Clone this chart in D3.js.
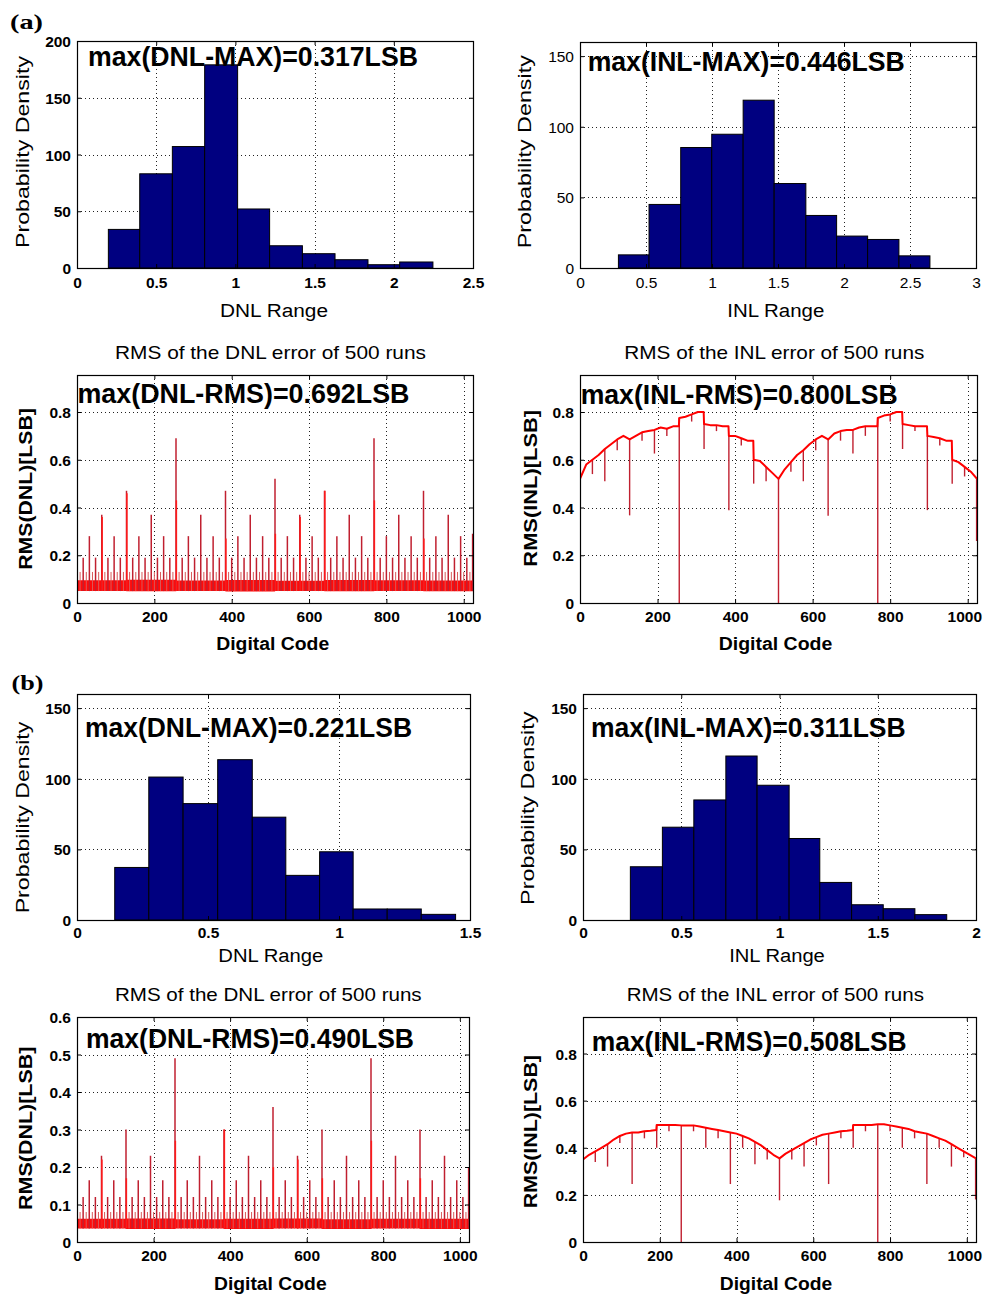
<!DOCTYPE html>
<html><head><meta charset="utf-8">
<script src="https://cdn.jsdelivr.net/npm/d3@7"></script>
<style>body{margin:0;background:#fff}svg{display:block}</style>
</head><body>
<script>
// ================= DATA =================
// (a) histogram of DNL range
const dnlA_edges = [0.198,0.396,0.602,0.806,1.014,1.216,1.423,1.629,1.837,2.037,2.247];
const dnlA_counts = [34,83,107,179,52,19.6,12.6,7.3,2.9,5.3];
// (a) histogram of INL range
const inlA_edges = [0.291,0.523,0.763,0.998,1.236,1.471,1.711,1.944,2.179,2.416,2.651];
const inlA_counts = [9.3,45,85.3,94.7,118.8,59.8,37.2,22.6,20.2,8.6];
// (b) histogram of DNL range
const dnlB_edges = [0.144,0.274,0.405,0.537,0.669,0.797,0.926,1.054,1.184,1.314,1.445];
const dnlB_counts = [37.2,101.2,82.4,113.5,72.8,31.6,48.3,7.8,7.8,4.0];
// (b) histogram of INL range
const inlB_edges = [0.241,0.404,0.564,0.727,0.886,1.049,1.205,1.367,1.528,1.689,1.851];
const inlB_counts = [37.7,65.7,85,116.1,95.4,57.7,26.6,10.8,8.0,3.8];

// digital codes where DNL-RMS spikes occur (grouped by level of the transition)
const codesTier8 = [8,24,40,56,72,88,104,120,136,152,168,184,200,216,232,248,264,280,296,312,328,344,360,376,392,408,424,440,456,472,488,504,520,536,552,568,584,600,616,632,648,664,680,696,712,728,744,760,776,792,808,824,840,856,872,888,904,920,936,952,968,984,1000,1016];
const codesTier16 = [16,48,80,112,144,176,208,240,272,304,336,368,400,432,464,496,528,560,592,624,656,688,720,752,784,816,848,880,912,944,976,1008];
const codesTier32 = [32,96,160,224,288,352,416,480,544,608,672,736,800,864,928,992];
const codesTier64 = [64,192,320,448,576,704,832,960];
const codesTier128 = [128,384,640,896];
const codesTier256 = [256,768];
const codesTier512 = [512];
const codesLast = [1023];

// spike heights per tier [tier8, tier16, tier32, tier64, tier128, tier256, tier512, last]
const dnlA_tierHeights = [0.13,0.19,0.28,0.37,0.47,0.69,0.52,0.29];
const dnlB_tierHeights = [0.08,0.12,0.165,0.23,0.30,0.49,0.36,0.20];
// secondary (adjacent) spikes [code, value]
const dnlA_secondary = [[65,0.36],[129,0.46],[257,0.43],[513,0.29],[577,0.36],[641,0.47],[769,0.43],[897,0.27],[385,0.27]];
const dnlB_secondary = [[65,0.22],[129,0.17],[257,0.27],[385,0.30],[513,0.20],[577,0.22],[641,0.17],[769,0.27],[897,0.17]];
// dense noise band of DNL RMS (low / high envelope every 128 codes)
const bandCodes = [0,128,256,384,512,640,768,896,1024];
const dnlA_bandLo = [0.050,0.049,0.050,0.048,0.050,0.049,0.050,0.049,0.050];
const dnlA_bandHi = [0.095,0.097,0.094,0.096,0.093,0.096,0.095,0.094,0.095];
const dnlB_bandLo = [0.036,0.035,0.036,0.035,0.036,0.035,0.036,0.035,0.036];
const dnlB_bandHi = [0.062,0.063,0.061,0.062,0.063,0.061,0.062,0.062,0.062];

// INL RMS base curves (codes and values, with step points)
const inlA_codes = [0,16,32,48,64,80,96,112,128,144,160,176,192,208,224,240,255,256,272,288,304,319,320,336,352,368,383,384,400,416,432,447,448,464,480,496,512,528,544,560,576,592,608,624,640,656,672,688,704,720,736,752,767,768,784,800,816,831,832,848,864,880,895,896,912,928,944,959,960,976,992,1008,1024];
const inlA_base = [0.52,0.58,0.60,0.62,0.645,0.665,0.685,0.70,0.685,0.70,0.715,0.72,0.725,0.735,0.73,0.74,0.74,0.775,0.78,0.79,0.80,0.80,0.75,0.745,0.745,0.74,0.74,0.70,0.70,0.69,0.68,0.68,0.60,0.595,0.57,0.545,0.52,0.56,0.59,0.62,0.64,0.665,0.685,0.70,0.685,0.71,0.72,0.725,0.725,0.735,0.74,0.74,0.74,0.775,0.785,0.79,0.80,0.80,0.75,0.745,0.74,0.74,0.74,0.70,0.695,0.69,0.68,0.68,0.60,0.59,0.57,0.55,0.52];
const inlB_codes = [0,16,32,48,64,80,96,112,128,144,160,176,191,192,208,224,240,256,272,288,304,320,336,352,368,384,400,416,432,448,464,480,496,512,528,544,560,576,592,608,624,640,656,672,688,703,704,720,736,752,768,784,800,816,832,848,864,880,896,912,928,944,960,976,992,1008,1024];
const inlB_base = [0.35,0.37,0.385,0.40,0.415,0.435,0.45,0.46,0.465,0.465,0.47,0.472,0.475,0.497,0.497,0.497,0.497,0.495,0.495,0.495,0.49,0.485,0.48,0.475,0.47,0.465,0.46,0.45,0.44,0.425,0.41,0.39,0.37,0.355,0.375,0.39,0.405,0.42,0.435,0.445,0.455,0.46,0.465,0.47,0.472,0.475,0.497,0.497,0.497,0.497,0.50,0.50,0.495,0.49,0.485,0.48,0.47,0.465,0.46,0.45,0.44,0.43,0.415,0.40,0.385,0.37,0.355];
// downward dips [code, value]
const inlA_dips = [[32,0.54],[64,0.51],[96,0.64],[128,0.367],[160,0.68],[192,0.626],[224,0.70],[256,0],[288,0.76],[320,0.645],[352,0.72],[384,0.389],[416,0.66],[448,0.50],[480,0.51],[512,0],[544,0.55],[576,0.51],[608,0.64],[640,0.365],[672,0.68],[704,0.626],[736,0.70],[768,0],[800,0.76],[832,0.645],[864,0.72],[896,0.389],[928,0.66],[960,0.50],[992,0.53],[1023,0.26]];
const inlB_dips = [[32,0.34],[64,0.32],[96,0.42],[128,0.246],[160,0.44],[192,0.40],[224,0.47],[256,0],[288,0.47],[320,0.40],[352,0.44],[384,0.246],[416,0.40],[448,0.33],[480,0.35],[512,0.177],[544,0.35],[576,0.32],[608,0.41],[640,0.246],[672,0.44],[704,0.40],[736,0.47],[768,0],[800,0.47],[832,0.40],[864,0.44],[896,0.246],[928,0.40],[960,0.32],[992,0.36],[1023,0.18]];

// tick labels
const ticksHistDnlA = [0,0.5,1,1.5,2,2.5], labHistDnlA = ["0","0.5","1","1.5","2","2.5"];
const ticksHistInlA = [0,0.5,1,1.5,2,2.5,3], labHistInlA = ["0","0.5","1","1.5","2","2.5","3"];
const ticksHistDnlB = [0,0.5,1,1.5], labHistDnlB = ["0","0.5","1","1.5"];
const ticksHistInlB = [0,0.5,1,1.5,2], labHistInlB = ["0","0.5","1","1.5","2"];
const ticksCode = [0,200,400,600,800,1000], labCode = ["0","200","400","600","800","1000"];
const ticksY200 = [0,50,100,150,200], labY200 = ["0","50","100","150","200"];
const ticksY150 = [0,50,100,150], labY150 = ["0","50","100","150"];
const ticksY08 = [0,0.2,0.4,0.6,0.8], labY08 = ["0","0.2","0.4","0.6","0.8"];
const ticksY06 = [0,0.1,0.2,0.3,0.4,0.5,0.6], labY06 = ["0","0.1","0.2","0.3","0.4","0.5","0.6"];

// ================= DRAWING =================
const W=983,H=1296;
const SANS="Arial, 'Liberation Sans', Helvetica, sans-serif";
const SERIF="'Times New Roman', 'Liberation Serif', serif";
const svg=d3.select("body").append("svg").attr("width",W).attr("height",H).attr("font-family",SANS);
svg.append("rect").attr("width",W).attr("height",H).attr("fill","#fff");
const defs=svg.append("defs");
let clipId=0;

function histDraw(edges,counts){
  return (g,x,y)=>{
    const bins=counts.map((v,i)=>({x0:edges[i],x1:edges[i+1],v}));
    g.selectAll(null).data(bins).join("rect")
      .attr("x",d=>x(d.x0)).attr("width",d=>x(d.x1)-x(d.x0))
      .attr("y",d=>y(d.v)).attr("height",d=>y(0)-y(d.v))
      .attr("fill","#000080").attr("stroke","#000").attr("stroke-width",1);
  };
}
function dnlDraw(lo,hi,tierH,secondary){
  return (g,x,y)=>{
    const band=bandCodes.map((c,i)=>({c,lo:lo[i],hi:hi[i]}));
    g.append("path").datum(band)
      .attr("d",d3.area().x(d=>x(d.c)).y0(d=>y(d.lo)).y1(d=>y(d.hi)).curve(d3.curveStepAfter))
      .attr("fill","#ff0a0a");
    const tiers=[codesTier8,codesTier16,codesTier32,codesTier64,codesTier128,codesTier256,codesTier512,codesLast];
    const spikes=[];
    tiers.forEach((cs,t)=>cs.forEach(c=>spikes.push({c,v:tierH[t],t})));
    secondary.forEach(([c,v])=>spikes.push({c,v,t:9}));
    g.selectAll(null).data(spikes).join("line")
      .attr("x1",d=>x(d.c)).attr("x2",d=>x(d.c))
      .attr("y1",y(lo[0])).attr("y2",d=>y(d.v))
      .attr("stroke",d=>d.t===0?"#d85a5a":(d.t===9?"#ff1a1a":"#c02030"))
      .attr("stroke-width",d=>d.t===0?1.0:1.5);
  };
}
function inlDraw(codes,base,dips){
  return (g,x,y)=>{
    const pts=codes.map((c,i)=>({c,v:base[i]}));
    const lookup=d3.scaleLinear().domain(codes).range(base);
    g.selectAll(null).data(dips).join("line")
      .attr("x1",d=>x(d[0])).attr("x2",d=>x(d[0]))
      .attr("y1",d=>y(lookup(d[0]))).attr("y2",d=>y(d[1]))
      .attr("stroke","#c02030").attr("stroke-width",1.4);
    g.append("path").datum(pts)
      .attr("d",d3.line().x(d=>x(d.c)).y(d=>y(d.v)))
      .attr("fill","none").attr("stroke","#ff0000").attr("stroke-width",2).attr("stroke-linejoin","round");
  };
}

const panels=[
 {x0:77,x1:473,y0:41,y1:268,xDomain:[0,2.5],yDomain:[0,200],xTicks:ticksHistDnlA,xLabels:labHistDnlA,yTicks:ticksY200,yLabels:labY200,tickBold:true,xPad:20,
  draw:histDraw(dnlA_edges,dnlA_counts),
  ann:{t:"max(DNL-MAX)=0.317LSB",x:88,y:66,len:330},
  xl:{t:"DNL Range",x:274,y:316.7,len:108,bold:false},
  yl:{t:"Probability Density",x:29,y:152,len:192,bold:false}},
 {x0:580,x1:976,y0:42,y1:268,xDomain:[0,3],yDomain:[0,160],xTicks:ticksHistInlA,xLabels:labHistInlA,yTicks:ticksY150,yLabels:labY150,tickBold:false,xPad:20,
  draw:histDraw(inlA_edges,inlA_counts),
  ann:{t:"max(INL-MAX)=0.446LSB",x:587.7,y:71,len:317},
  xl:{t:"INL Range",x:775.8,y:316.7,len:97,bold:false},
  yl:{t:"Probability Density",x:530.5,y:151.7,len:193,bold:false}},
 {x0:77,x1:473,y0:375,y1:603,xDomain:[0,1024],yDomain:[0,0.955],xTicks:ticksCode,xLabels:labCode,yTicks:ticksY08,yLabels:labY08,tickBold:true,xPad:19,
  draw:dnlDraw(dnlA_bandLo,dnlA_bandHi,dnlA_tierHeights,dnlA_secondary),
  title:{t:"RMS of the DNL error of 500 runs",x:270.5,y:359.3,len:311},
  ann:{t:"max(DNL-RMS)=0.692LSB",x:77.5,y:403,len:332},
  xl:{t:"Digital Code",x:272.7,y:650,len:113,bold:true},
  yl:{t:"RMS(DNL)[LSB]",x:32,y:489,len:161.7,bold:true}},
 {x0:580,x1:977,y0:375,y1:603,xDomain:[0,1024],yDomain:[0,0.955],xTicks:ticksCode,xLabels:labCode,yTicks:ticksY08,yLabels:labY08,tickBold:true,xPad:19,
  draw:inlDraw(inlA_codes,inlA_base,inlA_dips),
  title:{t:"RMS of the INL error of 500 runs",x:774.3,y:359.3,len:300},
  ann:{t:"max(INL-RMS)=0.800LSB",x:580.7,y:404,len:317},
  xl:{t:"Digital Code",x:775.5,y:650,len:113.6,bold:true},
  yl:{t:"RMS(INL)[LSB]",x:537,y:488.3,len:156.7,bold:true}},
 {x0:77,x1:470,y0:694,y1:920,xDomain:[0,1.5],yDomain:[0,160],xTicks:ticksHistDnlB,xLabels:labHistDnlB,yTicks:ticksY150,yLabels:labY150,tickBold:true,xPad:18.3,
  draw:histDraw(dnlB_edges,dnlB_counts),
  ann:{t:"max(DNL-MAX)=0.221LSB",x:85,y:737,len:327},
  xl:{t:"DNL Range",x:270.8,y:962,len:105,bold:false},
  yl:{t:"Probability Density",x:28.6,y:817.5,len:191.7,bold:false}},
 {x0:583,x1:976,y0:694,y1:920,xDomain:[0,2],yDomain:[0,160],xTicks:ticksHistInlB,xLabels:labHistInlB,yTicks:ticksY150,yLabels:labY150,tickBold:true,xPad:18.3,
  draw:histDraw(inlB_edges,inlB_counts),
  ann:{t:"max(INL-MAX)=0.311LSB",x:591,y:737,len:314.7},
  xl:{t:"INL Range",x:777,y:962,len:95.7,bold:false},
  yl:{t:"Probability Density",x:534.3,y:808.3,len:193.3,bold:false}},
 {x0:77,x1:469,y0:1017,y1:1242,xDomain:[0,1024],yDomain:[0,0.6],xTicks:ticksCode,xLabels:labCode,yTicks:ticksY06,yLabels:labY06,tickBold:true,xPad:19.4,
  draw:dnlDraw(dnlB_bandLo,dnlB_bandHi,dnlB_tierHeights,dnlB_secondary),
  title:{t:"RMS of the DNL error of 500 runs",x:268.3,y:1001,len:306.7},
  ann:{t:"max(DNL-RMS)=0.490LSB",x:86,y:1048,len:328},
  xl:{t:"Digital Code",x:270.3,y:1290,len:112.7,bold:true},
  yl:{t:"RMS(DNL)[LSB]",x:32,y:1128.3,len:163.3,bold:true}},
 {x0:583,x1:976,y0:1017,y1:1242,xDomain:[0,1024],yDomain:[0,0.955],xTicks:ticksCode,xLabels:labCode,yTicks:ticksY08,yLabels:labY08,tickBold:true,xPad:19.4,
  draw:inlDraw(inlB_codes,inlB_base,inlB_dips),
  title:{t:"RMS of the INL error of 500 runs",x:775.3,y:1001,len:297.3},
  ann:{t:"max(INL-RMS)=0.508LSB",x:591.7,y:1051,len:315},
  xl:{t:"Digital Code",x:776,y:1290,len:112.3,bold:true},
  yl:{t:"RMS(INL)[LSB]",x:537,y:1131.7,len:153.3,bold:true}}
];

function drawPanel(c){
  const x=d3.scaleLinear().domain(c.xDomain).range([c.x0,c.x1]);
  const y=d3.scaleLinear().domain(c.yDomain).range([c.y1,c.y0]);
  const g=svg.append("g");
  // grid
  const grid=g.append("g").attr("stroke","#222").attr("stroke-width",1).attr("stroke-dasharray","1,3");
  c.xTicks.filter(t=>t>c.xDomain[0]&&t<c.xDomain[1]).forEach(t=>{
    const px=Math.round(x(t))+0.5;
    grid.append("line").attr("x1",px).attr("x2",px).attr("y1",c.y0).attr("y2",c.y1);
  });
  c.yTicks.filter(t=>t>c.yDomain[0]&&t<c.yDomain[1]).forEach(t=>{
    const py=Math.round(y(t))+0.5;
    grid.append("line").attr("x1",c.x0).attr("x2",c.x1).attr("y1",py).attr("y2",py);
  });
  // data
  const id="clip"+(clipId++);
  defs.append("clipPath").attr("id",id).append("rect").attr("x",c.x0).attr("y",c.y0-1).attr("width",c.x1-c.x0).attr("height",c.y1-c.y0+1);
  const dg=g.append("g").attr("clip-path",`url(#${id})`);
  c.draw(dg,x,y);
  // annotation
  g.append("text").attr("x",c.ann.x).attr("y",c.ann.y).attr("font-size",27).attr("font-weight","bold")
    .attr("textLength",c.ann.len).attr("lengthAdjust","spacingAndGlyphs").attr("fill","#000").text(c.ann.t);
  // axes
  const tw=c.tickBold?"bold":"normal";
  const bx=g.append("g").attr("transform",`translate(0,${c.y1})`)
    .call(d3.axisBottom(x).tickValues(c.xTicks).tickFormat((d,i)=>c.xLabels[i]).tickSizeInner(-4).tickSizeOuter(0));
  bx.select(".domain").remove();
  bx.selectAll("text").attr("y",c.xPad).attr("dy","0").attr("font-size",15.5).attr("font-weight",tw).attr("font-family",SANS).attr("fill","#000");
  // keep the last label inside the page
  bx.selectAll(".tick").each(function(){
    const t=d3.select(this).select("text");
    const bb=t.node().getBBox();
    const m=this.transform.baseVal.consolidate();
    const tx=m?m.matrix.e:0;
    const right=tx+bb.x+bb.width;
    if(right>W-1) t.attr("x",(W-1)-right);
  });
  const tx=g.append("g").attr("transform",`translate(0,${c.y0})`)
    .call(d3.axisTop(x).tickValues(c.xTicks).tickFormat("").tickSizeInner(-4).tickSizeOuter(0));
  tx.select(".domain").remove();
  const lx=g.append("g").attr("transform",`translate(${c.x0},0)`)
    .call(d3.axisLeft(y).tickValues(c.yTicks).tickFormat((d,i)=>c.yLabels[i]).tickSizeInner(-4).tickSizeOuter(0).tickPadding(6));
  lx.select(".domain").remove();
  lx.selectAll("text").attr("dy","0.36em").attr("font-size",15.5).attr("font-weight",tw).attr("font-family",SANS).attr("fill","#000");
  const rx=g.append("g").attr("transform",`translate(${c.x1},0)`)
    .call(d3.axisRight(y).tickValues(c.yTicks).tickFormat("").tickSizeInner(-4).tickSizeOuter(0));
  rx.select(".domain").remove();
  g.selectAll(".tick line").attr("stroke","#000");
  // box
  g.append("rect").attr("x",c.x0+0.5).attr("y",c.y0+0.5).attr("width",c.x1-c.x0).attr("height",c.y1-c.y0)
    .attr("fill","none").attr("stroke","#000").attr("stroke-width",1.2);
  // labels
  if(c.title) g.append("text").attr("x",c.title.x).attr("y",c.title.y).attr("text-anchor","middle").attr("font-size",18.5)
    .attr("textLength",c.title.len).attr("lengthAdjust","spacingAndGlyphs").text(c.title.t);
  g.append("text").attr("x",c.xl.x).attr("y",c.xl.y).attr("text-anchor","middle").attr("font-size",18)
    .attr("font-weight",c.xl.bold?"bold":"normal").attr("textLength",c.xl.len).attr("lengthAdjust","spacingAndGlyphs").text(c.xl.t);
  g.append("text").attr("transform",`translate(${c.yl.x},${c.yl.y}) rotate(-90)`).attr("text-anchor","middle").attr("font-size",19)
    .attr("font-weight",c.yl.bold?"bold":"normal").attr("textLength",c.yl.len).attr("lengthAdjust","spacingAndGlyphs").text(c.yl.t);
}
panels.forEach(drawPanel);

// sub-figure letters
svg.append("text").attr("x",10).attr("y",28.5).attr("font-family",SERIF).attr("font-weight","bold").attr("font-size",21)
  .attr("textLength",33).attr("lengthAdjust","spacingAndGlyphs").text("(a)");
svg.append("text").attr("x",11.5).attr("y",689.5).attr("font-family",SERIF).attr("font-weight","bold").attr("font-size",21)
  .attr("textLength",32).attr("lengthAdjust","spacingAndGlyphs").text("(b)");
</script>
</body></html>
